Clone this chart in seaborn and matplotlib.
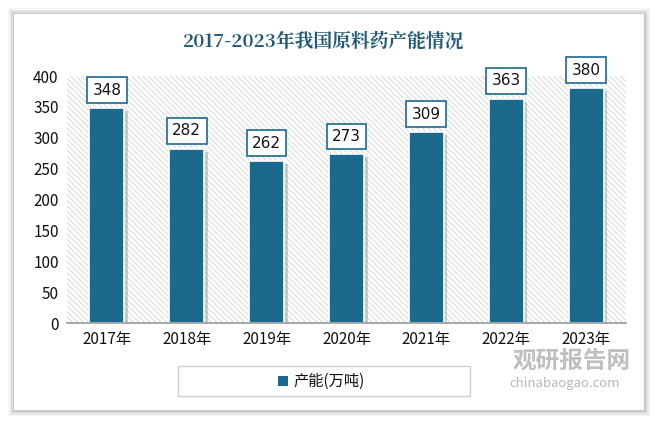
import matplotlib
matplotlib.use("Agg")
import matplotlib.pyplot as plt
import matplotlib.patheffects as pe
from matplotlib.patches import Rectangle
import seaborn as sns
import pandas as pd

years = ["2017年", "2018年", "2019年", "2020年", "2021年", "2022年", "2023年"]
capacity = [348, 282, 262, 273, 309, 363, 380]
series_name = "产能(万吨)"
title = "2017-2023年我国原料药产能情况"
yticks = [0, 50, 100, 150, 200, 250, 300, 350, 400]

BAR = "#1b6a8e"
df = pd.DataFrame({"year": years, "value": capacity})

sns.set_theme(style="white")
plt.rcParams["font.family"] = ["Noto Sans CJK SC", "DejaVu Sans"]
plt.rcParams["hatch.linewidth"] = 0.6

fig = plt.figure(figsize=(6.59, 4.24), dpi=100)
fig.patch.set_facecolor("white")

# card with soft shadow
for k, a in enumerate([0.04, 0.05, 0.06, 0.08]):
    d = (4 - k) * 1.5
    fig.patches.append(Rectangle(((14 - d) / 659, (14 - d) / 424), (630 + 2 * d) / 659, (396 + 2 * d) / 424,
                                 transform=fig.transFigure, facecolor="#000000", alpha=a,
                                 edgecolor="none", zorder=-3))
card = Rectangle((14/659, 14/424), 630/659, 396/424, transform=fig.transFigure,
                 facecolor="white", edgecolor="none", zorder=-2)
fig.patches.append(card)

ax = fig.add_axes([67/659, 101/424, 559/659, 247/424])
ax.set_zorder(2)
ax.set_facecolor("white")
ax.add_patch(Rectangle((0, 0), 1, 1, transform=ax.transAxes, facecolor="white",
                       edgecolor="#d2d2d2", linewidth=0, hatch="\\\\\\\\\\\\", zorder=0))

sns.barplot(data=df, x="year", y="value", color=BAR, width=0.44, ax=ax,
            saturation=1, edgecolor="white", linewidth=1.2, zorder=3)
for p in ax.patches:
    if isinstance(p, Rectangle) and p.get_height() > 0 and p.get_width() < 1:
        p.set_path_effects([pe.SimplePatchShadow(offset=(2.5, -2), shadow_rgbFace="#777777", alpha=0.35),
                            pe.Normal()])

for i, v in enumerate(capacity):
    ax.annotate(str(v), (i, v), xytext=(0, 13), textcoords="offset points",
                ha="center", va="center", fontsize=11, color="#111111", zorder=5,
                family=["DejaVu Sans"],
                bbox=dict(boxstyle="square,pad=0.35", facecolor="white", edgecolor=BAR, linewidth=1.2))

ax.set_ylim(0, 400)
ax.set_xlim(-0.5, 6.5)
ax.set_yticks(yticks)
ax.set_yticklabels([str(t) for t in yticks], fontsize=11, color="#111111")
ax.tick_params(axis="x", labelsize=11, colors="#111111", pad=6, length=0)
ax.tick_params(axis="y", length=0, pad=6)
ax.set_xlabel("")
ax.set_ylabel("")
for s in ["top", "right", "left"]:
    ax.spines[s].set_visible(False)
ax.spines["bottom"].set_color("#999999")
ax.spines["bottom"].set_linewidth(1.2)
ax.spines["bottom"].set_zorder(6)

fig.text(324/659, 1 - 42/424, title, ha="center", va="center", fontsize=13.5,
         color="#1f5a78", fontweight="bold", family=["Noto Serif CJK SC", "Noto Sans CJK SC", "DejaVu Serif"])

# legend box
leg_box = Rectangle((178/659, 1 - 396/424), 292/659, 30/424, transform=fig.transFigure,
                    facecolor="white", edgecolor="#d0d0d0", linewidth=1)
fig.patches.append(leg_box)
fig.patches.append(Rectangle((278/659, 1 - 386/424), 10/659, 10/424, transform=fig.transFigure,
                             facecolor=BAR, edgecolor="none"))
fig.text(294/659, 1 - 381/424, series_name, ha="left", va="center", fontsize=11, color="#111111")

# watermark
fig.text(513/659, 1 - 361/424, "观研报告网", ha="left", va="center", fontsize=17,
         color="#b0b0b0", fontweight="bold", alpha=0.8, zorder=3)
fig.text(509/659, 1 - 383/424, "chinabaogao.com", ha="left", va="center", fontsize=9.5,
         color="#b0b0b0", alpha=0.9, zorder=3)

fig.savefig("out.png", dpi=100)
